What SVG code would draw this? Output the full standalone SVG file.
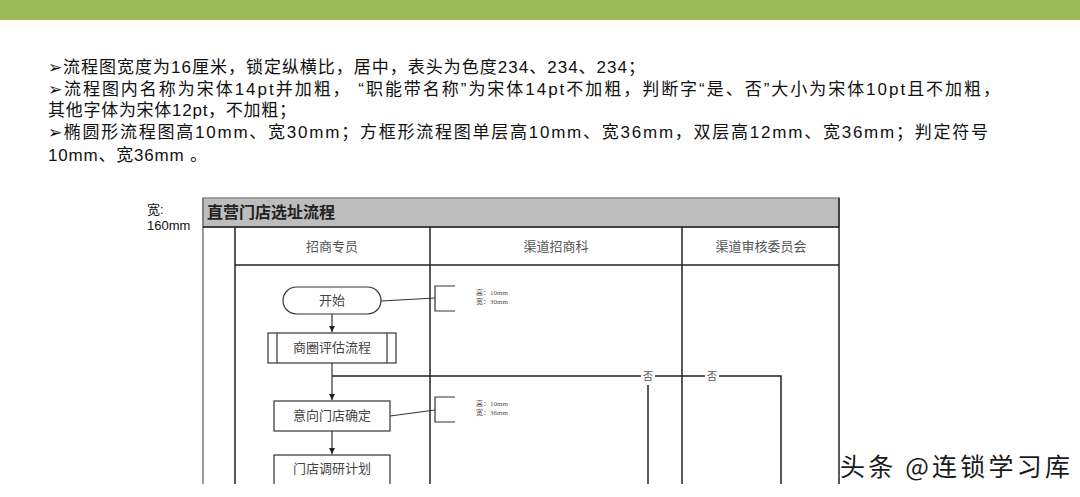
<svg xmlns="http://www.w3.org/2000/svg" width="1080" height="497" viewBox="0 0 1080 497">
<style>
.t{font-family:"Liberation Sans","Noto Sans CJK SC",sans-serif;font-size:17px;fill:#111}
.s{font-family:"Liberation Sans","Noto Sans CJK SC",sans-serif;font-size:13px;fill:#111}
.lane{font-family:"Noto Sans CJK SC",sans-serif;font-size:13px;fill:#555;text-anchor:middle}
.nt{font-family:"Noto Sans CJK SC",sans-serif;font-size:13px;fill:#444;text-anchor:middle}
.ann{font-family:"Liberation Serif","Noto Sans CJK SC",serif;font-size:7px;fill:#555}
.no{font-family:"Noto Sans CJK SC",sans-serif;font-size:10px;fill:#555;text-anchor:middle}
.box{fill:#fff;stroke:#333;stroke-width:1.2}
.ln{fill:none;stroke:#222;stroke-width:1.5}
.fr{fill:none;stroke:#777;stroke-width:1.5}
.cn{fill:none;stroke:#333;stroke-width:1.2}
</style>
<defs>
<marker id="ah" viewBox="0 0 8 8" refX="8" refY="4" markerWidth="6" markerHeight="6" orient="auto" markerUnits="userSpaceOnUse">
<path d="M0,0 L8,4 L0,8 Z" fill="#222"/>
</marker>
<clipPath id="cp"><rect x="0" y="0" width="1080" height="484"/></clipPath>
</defs>
<rect width="1080" height="497" fill="#fff"/>
<rect x="0" y="0" width="1080" height="20" fill="#9bbb59"/>
<rect x="0" y="20" width="1080" height="8" fill="#fdfdf6"/>
<g id="intro">
<text class="t" x="48" y="73" textLength="597" lengthAdjust="spacing">➢流程图宽度为16厘米，锁定纵横比，居中，表头为色度234、234、234；</text>
<text class="t" x="48" y="95" textLength="952" lengthAdjust="spacing">➢流程图内名称为宋体14pt并加粗， “职能带名称”为宋体14pt不加粗，判断字“是、否”大小为宋体10pt且不加粗，</text>
<text class="t" x="48" y="116" textLength="248" lengthAdjust="spacing">其他字体为宋体12pt，不加粗；</text>
<text class="t" x="48" y="138" textLength="940" lengthAdjust="spacing">➢椭圆形流程图高10mm、宽30mm；方框形流程图单层高10mm、宽36mm，双层高12mm、宽36mm；判定符号</text>
<text class="t" x="48" y="161" textLength="159" lengthAdjust="spacing">10mm、宽36mm 。</text>
</g>
<g id="width-note">
<text class="s" x="147" y="214">宽:</text>
<text class="s" x="147" y="230">160mm</text>
</g>
<g clip-path="url(#cp)">
<g id="frame">
<rect x="203" y="198" width="636" height="29" fill="#bdbdbd" stroke="#8a8a8a" stroke-width="1.5"/>
<text x="207" y="218" font-family="Noto Sans CJK SC,sans-serif" font-size="16" font-weight="bold" fill="#222">直营门店选址流程</text>
<line class="fr" x1="203" y1="198" x2="203" y2="490"/>
<line class="ln" x1="839" y1="198" x2="839" y2="490"/>
<line class="ln" x1="203" y1="227" x2="839" y2="227"/>
<line class="ln" x1="235" y1="227" x2="235" y2="490"/>
<line class="ln" x1="430" y1="227" x2="430" y2="490"/>
<line class="ln" x1="682" y1="227" x2="682" y2="490"/>
<line class="ln" x1="235" y1="265" x2="839" y2="265"/>
</g>
<g id="lane-1"><text class="lane" x="332" y="251">招商专员</text></g>
<g id="lane-2"><text class="lane" x="556" y="251">渠道招商科</text></g>
<g id="lane-3"><text class="lane" x="761" y="251">渠道审核委员会</text></g>
<g id="connectors">
<line class="cn" x1="332" y1="314" x2="332" y2="332" marker-end="url(#ah)"/>
<line class="cn" x1="332" y1="363" x2="332" y2="400" marker-end="url(#ah)"/>
<line class="cn" x1="332" y1="431" x2="332" y2="454" marker-end="url(#ah)"/>
<polyline class="ln" points="332,376 781,376 781,490"/>
<line class="ln" x1="648" y1="385" x2="648" y2="490"/>
<rect x="641" y="370" width="14" height="13" fill="#fff"/>
<text class="no" x="648" y="380">否</text>
<rect x="705" y="370" width="14" height="13" fill="#fff"/>
<text class="no" x="712" y="380">否</text>
<line class="cn" x1="381" y1="301" x2="435" y2="298"/>
<path class="cn" d="M455,286 H435 V311 H455"/>
<line class="cn" x1="390" y1="416" x2="435" y2="410"/>
<path class="cn" d="M455,397 H435 V422 H455"/>
</g>
<g id="start">
<rect class="box" x="283" y="287" width="98" height="27" rx="13.5"/>
<text class="nt" x="332" y="305">开始</text>
</g>
<g id="ann-start">
<text class="ann" x="476" y="295">高：10mm</text>
<text class="ann" x="476" y="304">宽：30mm</text>
</g>
<g id="trade-area">
<rect class="box" x="268" y="333" width="128" height="30"/>
<line class="cn" x1="277" y1="333" x2="277" y2="363"/>
<line class="cn" x1="387" y1="333" x2="387" y2="363"/>
<text class="nt" x="332" y="352">商圈评估流程</text>
</g>
<g id="store-confirm">
<rect class="box" x="274" y="401" width="116" height="30"/>
<text class="nt" x="332" y="420">意向门店确定</text>
</g>
<g id="ann-box">
<text class="ann" x="476" y="406">高：10mm</text>
<text class="ann" x="476" y="415">宽：36mm</text>
</g>
<g id="survey-plan">
<rect class="box" x="274" y="455" width="116" height="40"/>
<text class="nt" x="332" y="473">门店调研计划</text>
</g>
</g>
<g id="watermark">
<text x="840" y="476" font-family="Noto Sans CJK SC,sans-serif" font-size="25" fill="#1a1a1a" stroke="#fff" stroke-width="2" paint-order="stroke" textLength="230" lengthAdjust="spacing">头条 @连锁学习库</text>
</g>
</svg>
